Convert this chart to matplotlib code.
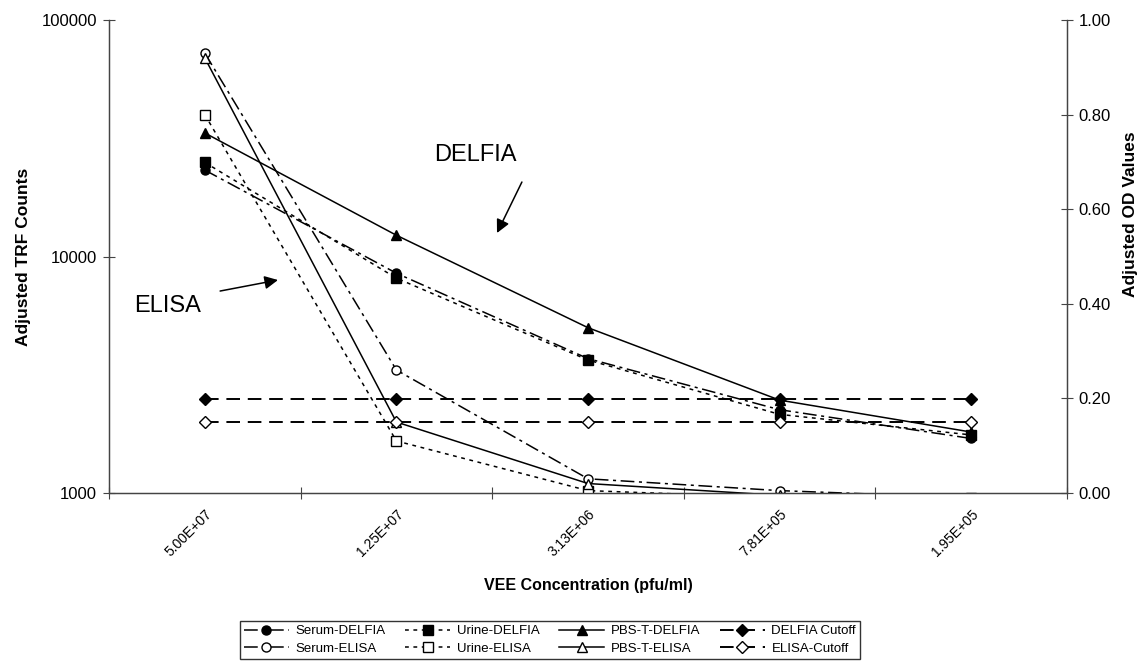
import matplotlib.pyplot as plt
from matplotlib.ticker import NullLocator, FixedLocator, FixedFormatter

plt.rcParams['font.family'] = ['Liberation Sans', 'DejaVu Sans']

concentrations = ['5.00E+07', '1.25E+07', '3.13E+06', '7.81E+05', '1.95E+05']

# Adjusted TRF counts (left, log axis)
serum_delfia = [23200, 8500, 3700, 2250, 1700]
urine_delfia = [25000, 8100, 3650, 2150, 1760]
pbst_delfia = [33300, 12300, 5000, 2470, 1810]
delfia_cutoff = [2500, 2500, 2500, 2500, 2500]

# Adjusted OD values (right axis)
serum_elisa = [0.93, 0.26, 0.03, 0.005, -0.01]
urine_elisa = [0.80, 0.11, 0.005, -0.01, -0.01]
pbst_elisa = [0.92, 0.15, 0.02, -0.005, -0.03]
elisa_cutoff = [0.15, 0.15, 0.15, 0.15, 0.15]

x = list(range(len(concentrations)))

fig = plt.figure(figsize=(11.4, 6.68), dpi=100)
ax = fig.add_axes([0.0956, 0.262, 0.8404, 0.708])
ax2 = ax.twinx()

serum_ls = (0, (9, 3, 2, 3))
urine_ls = (0, (2.5, 3))
cut_ls = (0, (7, 4))

h_sd, = ax.plot(x, serum_delfia, color='black', lw=1.1, ls=serum_ls, marker='o', ms=6.5, mfc='black', label='Serum-DELFIA')
h_ud, = ax.plot(x, urine_delfia, color='black', lw=1.1, ls=urine_ls, marker='s', ms=6.5, mfc='black', label='Urine-DELFIA')
h_pd, = ax.plot(x, pbst_delfia, color='black', lw=1.1, ls='-', marker='^', ms=7.5, mfc='black', label='PBS-T-DELFIA')
h_dc, = ax.plot(x, delfia_cutoff, color='black', lw=1.4, ls=cut_ls, marker='D', ms=6, mfc='black', label='DELFIA Cutoff')

h_se, = ax2.plot(x, serum_elisa, color='black', lw=1.1, ls=serum_ls, marker='o', ms=6.5, mfc='white', label='Serum-ELISA')
h_ue, = ax2.plot(x, urine_elisa, color='black', lw=1.1, ls=urine_ls, marker='s', ms=6.5, mfc='white', label='Urine-ELISA')
h_pe, = ax2.plot(x, pbst_elisa, color='black', lw=1.1, ls='-', marker='^', ms=7.5, mfc='white', label='PBS-T-ELISA')
h_ec, = ax2.plot(x, elisa_cutoff, color='black', lw=1.4, ls=cut_ls, marker='D', ms=6, mfc='white', label='ELISA-Cutoff')

ax.set_yscale('log')
ax.set_ylim(1000, 100000)
ax.set_xlim(-0.5, len(x) - 0.5)
ax.yaxis.set_major_locator(FixedLocator([1000, 10000, 100000]))
ax.yaxis.set_major_formatter(FixedFormatter(['1000', '10000', '100000']))
ax.yaxis.set_minor_locator(NullLocator())
ax2.set_ylim(0, 1)
ax2.set_yticks([0, 0.2, 0.4, 0.6, 0.8, 1.0])
ax2.set_yticklabels(['%.2f' % v for v in [0, 0.2, 0.4, 0.6, 0.8, 1.0]])

# category boundaries carry the ticks, labels sit at the centres
ax.set_xticks([i - 0.5 for i in range(len(x) + 1)])
ax.set_xticklabels([])
ax.set_xticks(x, minor=True)
ax.set_xticklabels(concentrations, minor=True, rotation=45, ha='right', va='top',
                   rotation_mode='anchor', fontsize=10)
ax.tick_params(axis='x', which='minor', length=0, pad=10)
ax.tick_params(axis='x', which='major', direction='inout', length=9, width=0.8, color='#444444')
ax.tick_params(axis='y', which='major', direction='inout', length=9, width=0.8, color='#444444', labelsize=12, pad=4)
ax2.tick_params(axis='y', direction='inout', length=9, width=0.8, color='#444444', labelsize=12, pad=4)

for a in (ax, ax2):
    a.spines['top'].set_visible(False)
    for s in ('left', 'right', 'bottom'):
        a.spines[s].set_color('#444444')
        a.spines[s].set_linewidth(0.9)

ax.set_xlabel('VEE Concentration (pfu/ml)', fontsize=11.5, fontweight='bold', labelpad=14)
ax.set_ylabel('Adjusted TRF Counts', fontsize=12.5, fontweight='bold')
ax.yaxis.set_label_coords(-0.081, 0.5)
ax2.set_ylabel('Adjusted OD Values', fontsize=12.5, fontweight='bold', rotation=90)
ax2.yaxis.set_label_coords(1.058, 0.59)

ax.text(0.382, 0.7146, 'DELFIA', transform=ax.transAxes, fontsize=17, ha='center', va='center')
ax.annotate('', xy=(0.405, 0.5497), xytext=(0.431, 0.6575), xycoords='axes fraction',
            arrowprops=dict(arrowstyle='-|>', mutation_scale=20, lw=1.1, color='black', shrinkA=0, shrinkB=0))
ax.text(0.0616, 0.395, 'ELISA', transform=ax.transAxes, fontsize=17, ha='center', va='center')
ax.annotate('', xy=(0.1764, 0.4503), xytext=(0.116, 0.427), xycoords='axes fraction',
            arrowprops=dict(arrowstyle='-|>', mutation_scale=20, lw=1.1, color='black', shrinkA=0, shrinkB=0))

handles = [h_sd, h_se, h_ud, h_ue, h_pd, h_pe, h_dc, h_ec]
fig.legend(handles=handles, labels=[h.get_label() for h in handles], ncol=4,
           loc='center', bbox_to_anchor=(550 / 1140, 1 - 640 / 668), fontsize=9.5,
           frameon=True, fancybox=False, edgecolor='black', handlelength=3.4,
           columnspacing=1.5, handletextpad=0.5, labelspacing=0.4, borderpad=0.3)

fig.savefig('out.png', dpi=100)
